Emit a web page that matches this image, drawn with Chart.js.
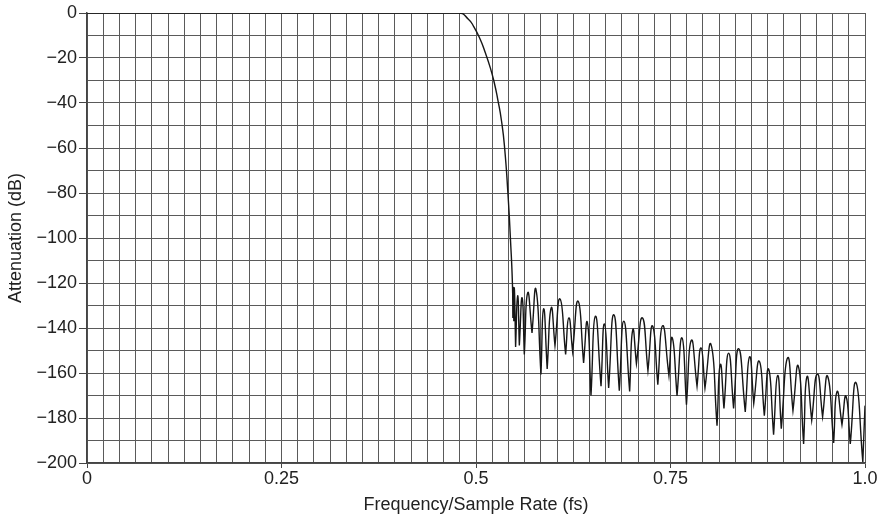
<!DOCTYPE html>
<html>
<head>
<meta charset="utf-8">
<script src="https://cdn.jsdelivr.net/npm/chart.js@4/dist/chart.umd.min.js"></script>
<style>
  html, body { margin: 0; padding: 0; background: #ffffff; }
  canvas { display: block; }
</style>
</head>
<body>
<canvas id="c" width="887" height="519"></canvas>
<script>
// ---- Data ----
// Passband and transition band
const transFreq = [0, 0.4777, 0.4905, 0.4969, 0.5055, 0.5120, 0.5184, 0.5235, 0.5280, 0.5328, 0.5368, 0.5410, 0.5442, 0.5468];
const transDb   = [0, 0, -2.9, -5.9, -11.8, -17.7, -24.4, -31.0, -38.5, -48.0, -60.0, -80.0, -100.0, -120.0];

// Stopband nulls (cusps)
const nullFreq = [0.5474, 0.5486, 0.5509, 0.5557, 0.5621, 0.5720, 0.5835, 0.5915, 0.6015, 0.6152,
                  0.6242, 0.6383, 0.6478, 0.6607, 0.6705, 0.6842, 0.6975, 0.7062, 0.7210, 0.7337,
                  0.7480, 0.7584, 0.7705, 0.7841, 0.7943, 0.8098, 0.8187, 0.8311, 0.8461, 0.8570,
                  0.8706, 0.8825, 0.8924, 0.9074, 0.9211, 0.9315, 0.9455, 0.9597, 0.9704, 0.9811,
                  0.9972];
const nullDb   = [-135.5, -137.0, -148.4, -147.8, -151.8, -142.2, -160.7, -158.2, -147.8, -151.8,
                  -150.4, -155.5, -170.0, -165.9, -166.7, -167.9, -168.2, -155.8, -159.0, -165.2,
                  -161.2, -170.1, -174.1, -165.9, -166.7, -183.4, -175.8, -175.8, -177.3, -173.5,
                  -179.0, -187.4, -184.8, -176.7, -191.5, -181.0, -179.5, -191.1, -183.0, -191.5,
                  -199.5];

// Stopband sidelobe peaks (one between each pair of nulls)
const peakFreq = [0.5480, 0.5493, 0.5535, 0.5593, 0.5664, 0.5771, 0.5869, 0.5966, 0.6080, 0.6193,
                  0.6313, 0.6431, 0.6534, 0.6651, 0.6771, 0.6900, 0.7015, 0.7138, 0.7270, 0.7398,
                  0.7523, 0.7648, 0.7767, 0.7892, 0.8021, 0.8140, 0.8247, 0.8376, 0.8517, 0.8641,
                  0.8761, 0.8877, 0.9005, 0.9143, 0.9254, 0.9387, 0.9520, 0.9640, 0.9756, 0.9884];
const peakDb   = [-122.0, -122.5, -125.6, -126.6, -124.4, -122.9, -131.5, -131.1, -127.1, -135.5,
                  -128.1, -137.5, -134.8, -138.2, -134.1, -137.0, -140.8, -135.5, -139.1, -139.0,
                  -144.4, -144.4, -145.5, -148.9, -147.4, -156.3, -151.2, -149.2, -152.8, -154.8,
                  -158.3, -161.1, -153.3, -157.0, -161.7, -160.5, -161.5, -168.3, -170.4, -164.3];

// Last point at the right edge
const endFreq = [1.0];
const endDb   = [-174.5];

// Axis ticks
const xTickValues = [0, 0.25, 0.5, 0.75, 1.0];
const xTickLabels = ['0', '0.25', '0.5', '0.75', '1.0'];
const xGridDivisions = 48;
const yMin = -200, yMax = 0, yGridStep = 10, yLabelStep = 20;

const xTitle = 'Frequency/Sample Rate (fs)';
const yTitle = 'Attenuation (dB)';

// ---- Build the point list for the library ----
const points = transFreq.map((f, i) => ({ x: f, y: transDb[i] }));
for (let i = 0; i < nullFreq.length; i++) {
  const n = { x: nullFreq[i], y: nullDb[i] };
  points.push(n, { x: n.x, y: n.y });      // doubled so the null is drawn as a sharp cusp
  if (i < peakFreq.length) points.push({ x: peakFreq[i], y: peakDb[i] });
}
endFreq.forEach((f, i) => points.push({ x: f, y: endDb[i] }));

const xGrid = Array.from({ length: xGridDivisions + 1 }, (_, i) => i / xGridDivisions);

const FONT = { family: "'Liberation Sans', Arial, Helvetica, sans-serif", size: 18 };
const TEXT = '#222222';
const GRID = '#5a5a5a';
const AXIS = '#444444';

function xLabelIndex(v) {
  for (let k = 0; k < xTickValues.length; k++) if (Math.abs(v - xTickValues[k]) < 1e-6) return k;
  return -1;
}
function yIsLabeled(v) { return Math.abs(v % yLabelStep) < 1e-6; }

new Chart(document.getElementById('c'), {
  type: 'line',
  data: {
    datasets: [{
      data: points,
      borderColor: '#161616',
      borderWidth: 1.4,
      pointRadius: 0,
      tension: 0.55,
      fill: false
    }]
  },
  options: {
    responsive: false,
    animation: false,
    devicePixelRatio: 1,
    layout: { padding: { top: 13, right: 22, bottom: 0, left: 0 } },
    plugins: { legend: { display: false }, tooltip: { enabled: false } },
    scales: {
      x: {
        type: 'linear',
        min: 0, max: 1,
        afterBuildTicks: (s) => { s.ticks = xGrid.map(v => ({ value: v })); },
        afterFit: (s) => { s.height = 56; },
        ticks: {
          autoSkip: false, maxRotation: 0, minRotation: 0, padding: 0,
          font: FONT, color: TEXT,
          callback: (v) => { const k = xLabelIndex(v); return k >= 0 ? xTickLabels[k] : ''; }
        },
        grid: {
          color: GRID, lineWidth: 1, tickLength: 5,
          tickColor: (ctx) => (ctx.tick && xLabelIndex(ctx.tick.value) >= 0) ? AXIS : 'rgba(0,0,0,0)'
        },
        border: { color: AXIS, width: 1.5 },
        title: { display: true, text: xTitle, font: FONT, color: TEXT, padding: { top: 0, bottom: 3 } }
      },
      y: {
        min: yMin, max: yMax,
        afterFit: (s) => { s.width = 87; },
        ticks: {
          stepSize: yGridStep, autoSkip: false, padding: 2,
          font: FONT, color: TEXT,
          callback: (v) => yIsLabeled(v) ? (v < 0 ? '\u2212' + Math.abs(v) : String(v)) : ''
        },
        grid: {
          color: GRID, lineWidth: 1, tickLength: 8,
          tickColor: (ctx) => (ctx.tick && yIsLabeled(ctx.tick.value)) ? AXIS : 'rgba(0,0,0,0)'
        },
        border: { color: AXIS, width: 1.5 },
        title: { display: true, text: yTitle, font: FONT, color: TEXT, padding: { top: 5, bottom: 0 } }
      }
    }
  }
});
</script>
</body>
</html>
